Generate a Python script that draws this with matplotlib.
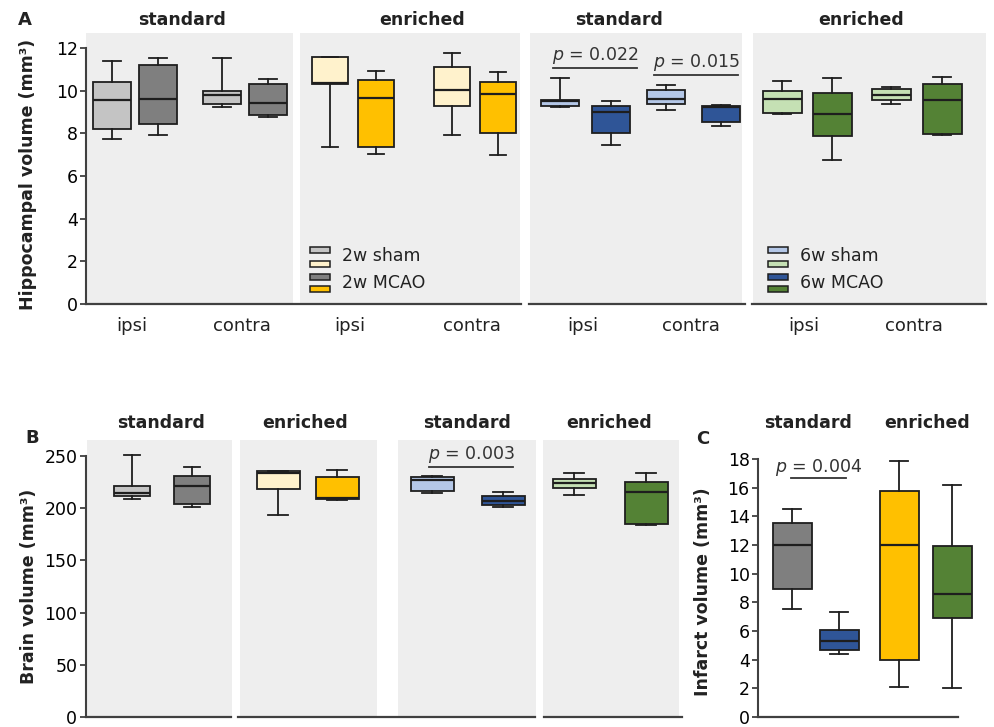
import numpy as np
import matplotlib
matplotlib.use('Agg')
import matplotlib.pyplot as plt
from matplotlib.patches import Rectangle
from matplotlib.lines import Line2D

# box stats: (whisker low, q1, median, q3, whisker high)
# order in hippocampus panels: ipsi sham, ipsi MCAO, contra sham, contra MCAO
hc_2w_standard = [[7.72, 8.20, 9.56, 10.39, 11.40],
                  [7.92, 8.45, 9.63, 11.19, 11.55],
                  [9.22, 9.36, 9.80, 9.97, 11.55],
                  [8.75, 8.88, 9.42, 10.30, 10.56]]
hc_2w_enriched = [[7.37, 10.30, 10.35, 11.60, 11.60],
                  [7.03, 7.37, 9.64, 10.50, 10.94],
                  [7.92, 9.28, 10.03, 11.13, 11.75],
                  [6.98, 8.00, 9.84, 10.39, 10.86]]
hc_6w_standard = [[9.22, 9.28, 9.50, 9.56, 10.58],
                  [7.45, 8.00, 9.02, 9.28, 9.52],
                  [9.09, 9.36, 9.60, 10.03, 10.25],
                  [8.34, 8.53, 9.22, 9.28, 9.33]]
hc_6w_enriched = [[8.90, 8.94, 9.63, 9.99, 10.45],
                  [6.75, 7.88, 8.89, 9.91, 10.58],
                  [9.36, 9.56, 9.80, 10.06, 10.19],
                  [7.92, 7.97, 9.56, 10.30, 10.66]]

# brain volume: sham, MCAO
brain_2w_standard = [[208.7, 211.5, 214.7, 221.0, 250.7],
                     [200.7, 204.5, 221.0, 230.6, 239.5]]
brain_2w_enriched = [[193.4, 218.2, 234.0, 235.7, 235.7],
                     [207.7, 209.0, 210.2, 230.0, 237.0]]
brain_6w_standard = [[215.0, 216.6, 226.8, 230.0, 230.9],
                     [201.3, 203.0, 207.0, 211.8, 215.6]]
brain_6w_enriched = [[213.0, 219.8, 224.2, 228.4, 233.8],
                     [184.0, 184.8, 215.6, 225.2, 233.8]]

# infarct volume: standard 2w, standard 6w, enriched 2w, enriched 6w
infarct = [[7.53, 8.94, 11.98, 13.55, 14.48],
           [4.40, 4.66, 5.28, 6.09, 7.30],
           [2.10, 3.96, 11.98, 15.75, 17.86],
           [2.04, 6.90, 8.60, 11.94, 16.20]]

side_labels = ['ipsi', 'contra']
housing = ['standard', 'enriched', 'standard', 'enriched']
p_hc = ['0.022', '0.015']
p_brain = '0.003'
p_infarct = '0.004'

c_2w_std = ['#c4c4c4', '#7f7f7f']
c_2w_enr = ['#fff2cc', '#ffc000']
c_6w_std = ['#b4c7e7', '#2f5597']
c_6w_enr = ['#c5e0b4', '#548235']

W, H = 994, 727
INK = '#1e1e1e'
AXC = '#404040'
BG = '#eeeeee'

plt.rcParams['font.family'] = ['DejaVu Sans']
plt.rcParams['mathtext.fontset'] = 'dejavusans'
plt.rcParams['text.color'] = '#222222'

fig = plt.figure(figsize=(W / 100, H / 100), dpi=100)


def fx(x):
    return x / W


def fy(y):
    return 1 - y / H


def ax_px(l, t, r, b):
    return fig.add_axes([l / W, 1 - b / H, (r - l) / W, (b - t) / H])


def draw_boxes(ax, rows, pos, width, colors):
    stats = [dict(whislo=s[0], q1=s[1], med=s[2], q3=s[3], whishi=s[4]) for s in rows]
    bp = ax.bxp(stats, positions=pos, widths=width, patch_artist=True,
                showfliers=False, capwidths=width * 0.45, manage_ticks=False,
                boxprops=dict(ec=INK, lw=1.3),
                medianprops=dict(color=INK, lw=1.6),
                whiskerprops=dict(color=INK, lw=1.3),
                capprops=dict(color=INK, lw=1.3))
    for patch, c in zip(bp['boxes'], colors):
        patch.set_facecolor(c)
    for k in bp:
        for a in bp[k]:
            a.set_clip_on(False)


def sub_axes(l, r, t, b, ytop, first, ticks):
    ax = ax_px(l, t, r, b)
    ax.set_facecolor(BG)
    ax.set_xlim(0, r - l)
    ax.set_ylim(0, ytop)
    for s in ax.spines.values():
        s.set_visible(False)
    if first:
        ax.spines['left'].set_visible(True)
        ax.spines['left'].set_color(AXC)
        ax.spines['left'].set_linewidth(1.5)
        ax.spines['left'].set_bounds(ticks[0], ticks[-1])
        ax.set_yticks(ticks)
        ax.tick_params(axis='y', length=4, width=1.3, color=AXC, labelsize=12.5, pad=2)
    else:
        ax.set_yticks([])
    ax.set_xticks([])
    return ax


def p_text(ax, x0, x1, yline, ytext, pval):
    ax.plot([x0, x1], [yline, yline], color='#333333', lw=1.3, clip_on=False)
    ax.text((x0 + x1) / 2, ytext, r'$\it{p}$ = ' + pval, ha='center', va='baseline',
            fontsize=12.5, color='#333333')


# ---------- panel A ----------
A_top, A_bot = 33, 304
A_ytop = 12 * (A_bot - A_top) / (A_bot - 48)
A_layout = [(86, 293, [26, 72, 136, 182], 38),
            (300, 520, [30, 76, 152, 198], 36),
            (530, 742, [30, 81, 136, 191], 38),
            (753, 986, [29, 79, 138, 189], 39)]
A_data = [hc_2w_standard, hc_2w_enriched, hc_6w_standard, hc_6w_enriched]
A_cols = [c_2w_std, c_2w_enr, c_6w_std, c_6w_enr]
A_title_x = [182, 422, 619, 861]
A_axes = []
for i, (l, r, pos, w) in enumerate(A_layout):
    ax = sub_axes(l, r, A_top, A_bot, A_ytop, i == 0, np.arange(0, 13, 2))
    draw_boxes(ax, A_data[i], pos, w, A_cols[i] * 2)
    for j, lab in enumerate(side_labels):
        mid = (pos[2 * j] + pos[2 * j + 1]) / 2 - 3
        ax.text(mid, -0.62, lab, ha='center', va='top', fontsize=13)
    fig.text(fx(A_title_x[i]), fy(20), housing[i], ha='center', va='center',
             fontsize=12.5, fontweight='bold')
    A_axes.append(ax)

p_text(A_axes[2], 23, 107, 11.05, 11.42, p_hc[0])
p_text(A_axes[2], 124, 208, 10.74, 11.11, p_hc[1])

# ---------- panel B ----------
B_top, B_bot = 440, 717
B_ytop = 250 * (B_bot - B_top) / (B_bot - 456)
B_layout = [(87, 232, [45, 105], 36),
            (240, 377, [38, 97], 43),
            (398, 536, [34, 105], 43),
            (543, 679, [31, 103], 43)]
B_data = [brain_2w_standard, brain_2w_enriched, brain_6w_standard, brain_6w_enriched]
B_title_x = [161, 305, 467, 609]
B_axes = []
for i, (l, r, pos, w) in enumerate(B_layout):
    ax = sub_axes(l, r, B_top, B_bot, B_ytop, i == 0, np.arange(0, 251, 50))
    draw_boxes(ax, B_data[i], pos, w, A_cols[i])
    fig.text(fx(B_title_x[i]), fy(423), housing[i], ha='center', va='center',
             fontsize=12.5, fontweight='bold')
    B_axes.append(ax)
B_axes[0].spines['left'].set_position(('outward', 1))
p_text(B_axes[2], 31, 115, 239.5, 247.5, p_brain)

# ---------- panel C ----------
C_top, C_bot = 449, 717
C_ytop = 18 * (C_bot - C_top) / (C_bot - 459)
axc = ax_px(758, C_top, 958, C_bot)
axc.set_xlim(0, 200)
axc.set_ylim(0, C_ytop)
for s in axc.spines.values():
    s.set_visible(False)
axc.spines['left'].set_visible(True)
axc.spines['left'].set_color(AXC)
axc.spines['left'].set_linewidth(1.5)
axc.spines['left'].set_bounds(0, 18)
axc.set_yticks(np.arange(0, 19, 2))
axc.set_xticks([])
axc.tick_params(axis='y', length=4, width=1.3, color=AXC, labelsize=12.5, pad=2)
draw_boxes(axc, infarct, [34, 81, 141, 194], 39,
           [c_2w_std[1], c_6w_std[1], c_2w_enr[1], c_6w_enr[1]])
p_text(axc, 33, 88, 16.68, 17.12, p_infarct)
fig.text(fx(808), fy(423), 'standard', ha='center', va='center', fontsize=12.5, fontweight='bold')
fig.text(fx(927), fy(423), 'enriched', ha='center', va='center', fontsize=12.5, fontweight='bold')

# ---------- baselines ----------
for y, segs in [(304, [(86, 521), (529, 745), (752, 986)]),
                (717, [(86, 231), (238, 535), (544, 682)]),
                (717, [(758, 958)])]:
    for x0, x1 in segs:
        fig.add_artist(Line2D([fx(x0), fx(x1)], [fy(y), fy(y)], color=AXC, lw=1.6))

# ---------- legends ----------
def legend_px(x, labels, cols_a, cols_b):
    ys = [(247, 253), (261, 267), (274, 280), (286, 292)]
    swatches = [cols_a[0], cols_b[0], cols_a[1], cols_b[1]]
    for (y0, y1), c in zip(ys, swatches):
        fig.add_artist(Rectangle((fx(x), fy(y1)), 20 / W, (y1 - y0) / H,
                                 transform=fig.transFigure, fc=c, ec=INK, lw=1.1))
    fig.text(fx(x + 32), fy(256), labels[0], va='center', fontsize=12.5)
    fig.text(fx(x + 32), fy(283), labels[1], va='center', fontsize=12.5)


legend_px(310, ['2w sham', '2w MCAO'], c_2w_std, c_2w_enr)
legend_px(768, ['6w sham', '6w MCAO'], c_6w_std, c_6w_enr)

# ---------- labels ----------
fig.text(fx(25), fy(20), 'A', ha='center', va='center', fontsize=13, fontweight='bold')
fig.text(fx(32), fy(438), 'B', ha='center', va='center', fontsize=13, fontweight='bold')
fig.text(fx(703), fy(439), 'C', ha='center', va='center', fontsize=13, fontweight='bold')
fig.text(fx(28), fy(174), 'Hippocampal volume (mm³)', rotation=90, ha='center', va='center',
         fontsize=12.5, fontweight='bold')
fig.text(fx(29), fy(586), 'Brain volume (mm³)', rotation=90, ha='center', va='center',
         fontsize=12.5, fontweight='bold')
fig.text(fx(703), fy(592), 'Infarct volume (mm³)', rotation=90, ha='center', va='center',
         fontsize=12.5, fontweight='bold')

fig.savefig('out.png', dpi=100)
